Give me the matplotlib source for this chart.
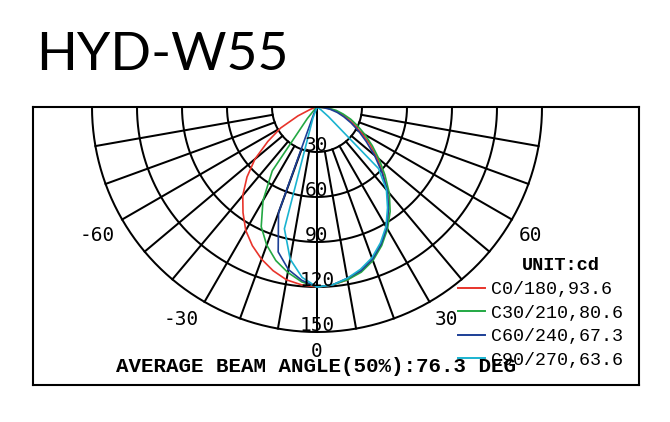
import numpy as np
import matplotlib
matplotlib.use("Agg")
import matplotlib.pyplot as plt
from matplotlib.lines import Line2D

# ---------------- data ----------------
title = "HYD-W55"
angles = list(range(-90, 95, 5))  # degrees, negative = left side

c0_180 = [0, 0, 1, 2, 5, 14, 28, 40, 54, 66, 77, 86, 95, 102, 108, 113, 117, 119,
          120,
          119, 117, 113, 108, 101, 93, 83, 73, 62, 52, 43, 34, 27, 21, 16, 11, 6, 0]
c30_210 = [0, 0, 0, 0, 0, 0, 0, 0, 0, 2, 10, 52, 72, 88, 98, 106, 112, 117,
           120,
           119, 117, 114, 109, 102, 94, 85, 75, 64, 54, 45, 37, 30, 24, 18, 13, 7, 0]
c60_240 = [0, 0, 0, 0, 0, 0, 0, 0, 0, 0, 0, 0, 0, 5, 75, 100, 110, 116,
           120,
           119, 116, 113, 108, 101, 93, 83, 73, 61, 50, 40, 32, 25, 19, 14, 9, 4, 0]
c90_270 = [0, 0, 0, 0, 0, 0, 0, 0, 0, 0, 0, 0, 0, 0, 8, 84, 103, 114,
           120,
           119, 116, 112, 107, 100, 92, 82, 72, 58, 10, 3, 0, 0, 0, 0, 0, 0, 0]

series = [c0_180, c30_210, c60_240, c90_270]
series_labels = ["C0/180,93.6", "C30/210,80.6", "C60/240,67.3", "C90/270,63.6"]
series_colors = ["#e8342b", "#23a843", "#1c3f96", "#1ab3d0"]

ring_values = [30, 60, 90, 120, 150]
ring_labels = ["30", "60", "90", "120", "150"]
spoke_angles = [a for a in range(-80, 90, 10) if a != 0]
angle_label_texts = ["-60", "-30", "0", "30", "60"]
unit_text = "UNIT:cd"
beam_text = "AVERAGE BEAM ANGLE(50%):76.3 DEG"

# ---------------- figure ----------------
W, H = 670, 422
fig = plt.figure(figsize=(W / 100, H / 100), dpi=100)

# box in pixels: x 33..639, y 107..385 ; centre at (317,107), 1.5 px per cd
bx0, bx1, by0, by1 = 33, 639, 107, 385
cx, cy, s = 317, 107, 1.5
ax = fig.add_axes([bx0 / W, 1 - by1 / H, (bx1 - bx0) / W, (by1 - by0) / H])
ax.set_xlim((bx0 - cx) / s, (bx1 - cx) / s)
ax.set_ylim(-(by1 - cy) / s, (by0 - cy) / s)
ax.set_xticks([])
ax.set_yticks([])
for sp in ax.spines.values():
    sp.set_linewidth(1.5)
    sp.set_color("black")

grid_lw = 1.45
# rings
th = np.radians(np.linspace(-90, 90, 361))
for r in ring_values:
    ax.plot(r * np.sin(th), -r * np.cos(th), color="black", lw=grid_lw, zorder=1)
# spokes
for a in spoke_angles:
    t = np.radians(a)
    ax.plot([ring_values[0] * np.sin(t), ring_values[-1] * np.sin(t)],
            [-ring_values[0] * np.cos(t), -ring_values[-1] * np.cos(t)],
            color="black", lw=grid_lw, zorder=1)
ax.plot([0, 0], [0, -ring_values[-1]], color="black", lw=grid_lw, zorder=1)

# ring labels
for r, lab in zip(ring_values, ring_labels):
    ax.text(0, -r + 0.5, lab, ha="center", va="baseline", fontsize=14,
            family="DejaVu Sans Mono", zorder=3)

# angle labels (digits placed symmetrically, minus sign extends to the left)
lab_fs = 14
char_w = 0.602 * lab_fs * 100 / 72 / s  # one mono character in data units
label_pos_angles = [-59, -31.3, 0, 31.3, 59]
for a, lab in zip(label_pos_angles, angle_label_texts):
    t = np.radians(a)
    rr = 163 if a == 0 else 166
    x, y = rr * np.sin(t), -rr * np.cos(t)
    if a < 0:
        ax.text(x + char_w * (len(lab) - 1) / 2, y, lab, ha="right", va="center",
                fontsize=lab_fs, family="DejaVu Sans Mono", zorder=3)
    else:
        ax.text(x, y, lab, ha="center", va="center",
                fontsize=lab_fs, family="DejaVu Sans Mono", zorder=3)

# curves
ang = np.radians(np.array(angles, dtype=float))
for vals, col in zip(series, series_colors):
    v = np.array(vals, dtype=float)
    ax.plot(v * np.sin(ang), -v * np.cos(ang), color=col, lw=1.2, zorder=2)

# legend
handles = [Line2D([], [], color=c, lw=1.4) for c in series_colors]
leg = ax.legend(handles, series_labels, loc="upper left",
                bbox_to_anchor=(458 / W, 1 - 281 / H), bbox_transform=fig.transFigure,
                frameon=False, prop={"family": "Liberation Mono", "size": 13.2},
                handlelength=1.5, handletextpad=0.3, labelspacing=0.36,
                borderpad=0, borderaxespad=0)
leg.set_zorder(5)

fig.text(561 / W, 1 - 265 / H, unit_text, ha="center", va="center",
         fontsize=13.4, family="Liberation Mono", weight="bold")
fig.text(316 / W, 1 - 367 / H, beam_text, ha="center", va="center",
         fontsize=15, family="Liberation Mono", weight="bold")

fig.text(36 / W, 1 - 70 / H, title, ha="left", va="baseline", fontsize=38.5,
         family="Lato", weight="normal", color="black")

fig.savefig("out.png", dpi=100)
